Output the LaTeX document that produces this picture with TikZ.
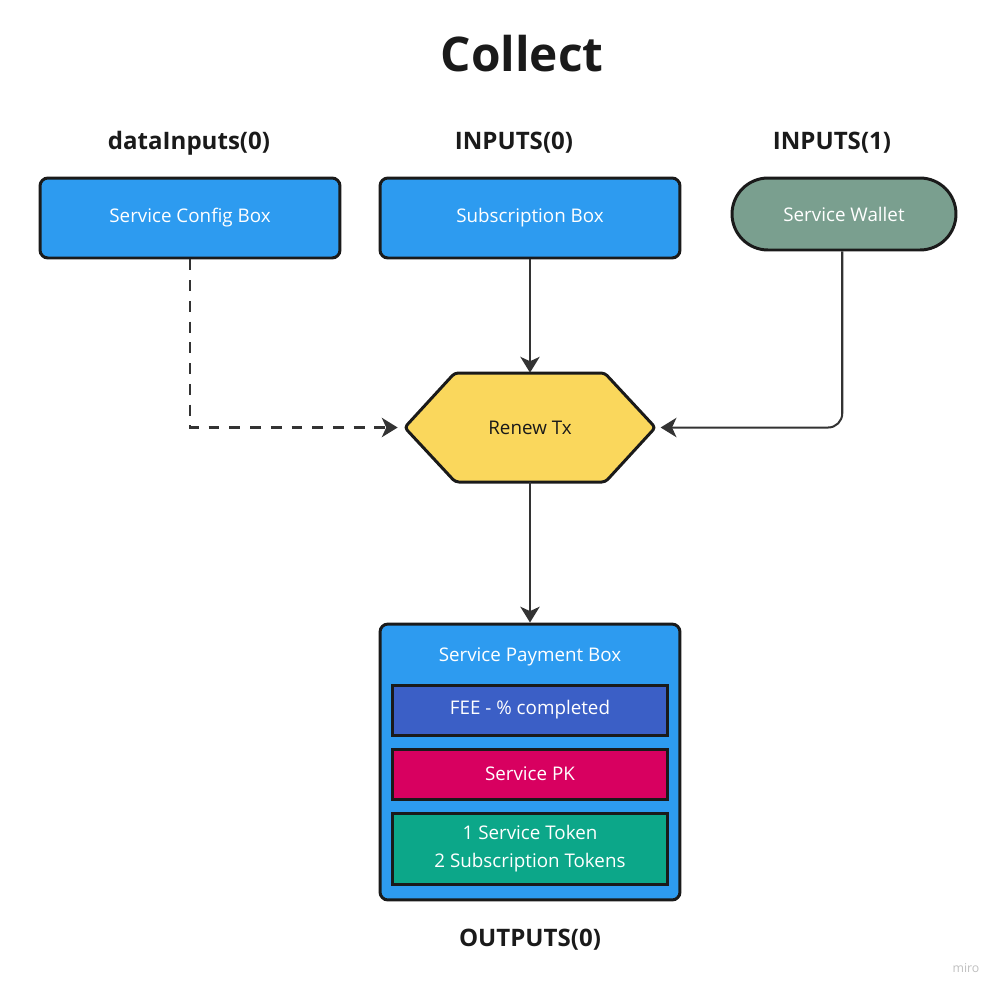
\documentclass[tikz,border=0pt]{standalone}
\usepackage{fontspec}
\setmainfont{Open Sans}
\usepackage{tikz}
\usetikzlibrary{arrows.meta}
\usetikzlibrary{positioning}
\definecolor{mblue}{HTML}{2D9BF0}
\definecolor{mgreen}{HTML}{7A9F8F}
\definecolor{myellow}{HTML}{FAD75C}
\definecolor{mindigo}{HTML}{3B5FC6}
\definecolor{mred}{HTML}{D80060}
\definecolor{mteal}{HTML}{0CA789}
\definecolor{mline}{HTML}{333333}
\definecolor{medge}{HTML}{1A1A1A}
\tikzset{box/.style = {draw=medge, line width=1.7pt, rounded corners=4.5pt, fill=mblue,
                       text=white, font=\fontsize{10.7}{12}\selectfont,
                       minimum width=6cm, minimum height=1.6cm, inner sep=0pt}}
\tikzset{field/.style = {draw=medge, line width=1.7pt, text=white, align=center,
                         font=\fontsize{10.7}{15.5}\selectfont,
                         minimum width=5.52cm, minimum height=1cm, inner sep=0pt}}
\tikzset{heading/.style = {font=\bfseries\fontsize{13.7}{16}\selectfont, text=medge}}
\tikzset{flow/.style = {draw=mline, line width=1.15pt,
                        -{Stealth[length=9pt, width=11pt, inset=2.5pt]}}}
\begin{document}
\begin{tikzpicture}[x=0.02cm, y=-0.02cm]
      \useasboundingbox (0, 0) rectangle (1004, 995);

      \node [font=\bfseries\fontsize{27.2}{32}\selectfont, text=medge] (title) at (522, 54) {Collect};

      \node [heading] (hcfg) at (189, 143) {dataInputs(0)};
      \node [heading] (hsub) at (514, 143) {INPUTS(0)};
      \node [heading] (hwal) at (832, 143) {INPUTS(1)};

      \node [box] (cfg) at (190, 218) {Service Config Box};
      \node [box] (sub) at (530, 218) {Subscription Box};
      \node [box, fill=mgreen, rounded corners=0.72cm, minimum width=4.48cm, minimum height=1.44cm] (wal) at (844, 214) {Service Wallet};

      \node [minimum width=5cm, minimum height=2.18cm, inner sep=0pt] (renew) at (530, 427.5) {};
      \fill [myellow] (renew.west) -- ++(50, -54.5) -- ++(150, 0) -- (renew.east) -- ++(-50, 54.5) -- ++(-150, 0) -- cycle;
      \draw [medge, line width=1.7pt, line join=round, rounded corners=2pt] (renew.west) -- ++(50, -54.5) -- ++(150, 0) -- (renew.east) -- ++(-50, 54.5) -- ++(-150, 0) -- cycle;
      \node [font=\fontsize{10.7}{12}\selectfont, text=medge] (renewtext) at (renew) {Renew Tx};

      \node [box, minimum height=5.52cm] (pay) at (530, 762) {};
      \node [text=white, font=\fontsize{10.7}{12}\selectfont] (paytitle) at (530, 657) {Service Payment Box};
      \node [field, fill=mindigo] (fee) at (530, 710) {FEE - \% completed};
      \node [field, fill=mred] (pk) at (530, 774) {Service PK};
      \node [field, fill=mteal, minimum height=1.42cm] (tok) at (530, 848.5) {1 Service Token\\2 Subscription Tokens};

      \node [heading] (hpay) at (530, 940) {OUTPUTS(0)};
      \node [text=black!25, font=\fontsize{7}{8}\selectfont] (miro) at (966, 968) {miro};

      \draw [flow, line width=1.3pt, dash pattern=on 6.2pt off 5.6pt] (cfg.south) |- ([xshift=-4] renew.west);
      \draw [flow] (sub.south) -- (renew.north);
      \draw [flow, rounded corners=8] ([xshift=-1] wal.south) |- ([xshift=3] renew.east);
      \draw [flow] (renew.south) -- (pay.north);
    \end{tikzpicture}
\end{document}
